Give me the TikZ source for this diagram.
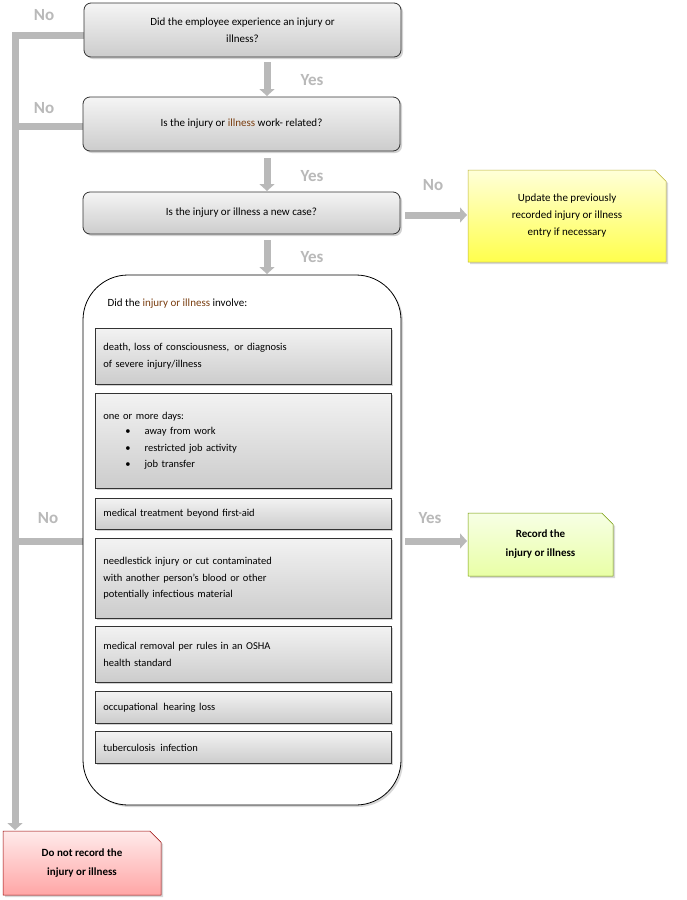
\documentclass[tikz,border=0pt]{standalone}
\usepackage{fontspec}
\setmainfont{Carlito}
\usetikzlibrary{shadows,shapes.misc,arrows.meta}
\definecolor{brn}{HTML}{7A3E10}
\begin{document}
\begin{tikzpicture}[x=1pt,y=-1pt,
  qbox/.style={draw=black!80,line width=0.8pt,rounded corners=7pt,top color=gray!8,bottom color=gray!40,drop shadow={opacity=0.35,shadow xshift=2pt,shadow yshift=-2pt},align=center,font=\fontsize{11}{17}\selectfont,inner sep=0pt},
  ibox/.style={draw=black!80,line width=0.8pt,top color=gray!10,bottom color=gray!40,drop shadow={opacity=0.35,shadow xshift=2pt,shadow yshift=-2pt},align=left,font=\fontsize{10.5}{16.5}\selectfont,anchor=north west,text width=280pt,inner xsep=8pt,inner ysep=0pt},
  flow/.style={draw=gray!55,line width=7pt},
  flowarr/.style={flow,-{Triangle[width=15pt,length=7pt]}},
  lbl/.style={text=gray!55,font=\fontsize{17}{17}\selectfont\bfseries},
  note/.style={draw=#1!70!black,line width=0.5pt,chamfered rectangle,chamfered rectangle corners=north east,chamfered rectangle xsep=8pt,align=center,drop shadow={opacity=0.3,shadow xshift=2pt,shadow yshift=-2pt},font=\fontsize{11}{17}\selectfont,inner sep=0pt}]
\useasboundingbox[fill=white] (0,0) rectangle (686,900);
% flows
\coordinate (topL) at (15,35);
\coordinate (botL) at (15,830);
\draw[flow] (84,35) -- (topL) -- (15,800);
\draw[flowarr] (15,790) -- (botL);
\draw[flow] (84,126) -- (15,126);
\draw[flow] (84,541) -- (15,541);
\draw[flowarr] (267,62) -- (267,96);
\draw[flowarr] (267,158) -- (267,191);
\draw[flowarr] (267,240) -- (267,274);
\draw[flowarr] (405,215) -- (467,215);
\draw[flowarr] (405,541) -- (467,541);
% question boxes
\node[qbox,minimum width=317pt,minimum height=54pt] (q1) at (242.5,30) {Did the employee experience an injury or\\illness?};
\node[qbox,minimum width=317pt,minimum height=54pt] (q2) at (241.5,124) {Is the injury or {\color{brn}illness} work- related?};
\node[qbox,minimum width=317pt,minimum height=42pt] (q3) at (241.5,213) {Is the injury or illness a new case?};
% big box
\draw[line width=0.8pt,fill=white,rounded corners=45pt,drop shadow={opacity=0.3,shadow xshift=2pt,shadow yshift=-2pt}] (83,275) rectangle (401,805);
\node[anchor=west,font=\fontsize{11}{13}\selectfont] (title) at (104,304) {Did the {\color{brn}injury or illness} involve:};
\node[ibox,minimum height=56pt] (i1) at (95,328) {death, loss of consciousness,\, or diagnosis\\of severe injury/illness};
\node[ibox,minimum height=95pt] (i2) at (95,393) {one or more days:\\[-1pt]
\hspace*{22pt}\textbullet\hspace{14pt}away from work\\
\hspace*{22pt}\textbullet\hspace{14pt}restricted job activity\\
\hspace*{22pt}\textbullet\hspace{14pt}job transfer};
\node[ibox,minimum height=31pt] (i3) at (95,498) {medical treatment beyond first-aid};
\node[ibox,minimum height=80pt] (i4) at (95,538) {needlestick injury or cut contaminated\\with another person's blood or other\\potentially infectious material};
\node[ibox,minimum height=56pt] (i5) at (95,626) {medical removal per rules in an OSHA\\health standard};
\node[ibox,minimum height=32pt] (i6) at (95,691) {occupational\, hearing loss};
\node[ibox,minimum height=32pt] (i7) at (95,731) {tuberculosis\, infection};
% outcome notes
\node[note=yellow,top color=yellow!15,bottom color=yellow!70,minimum width=198pt,minimum height=92pt] (upd) at (567,216) {Update the previously\\recorded injury or illness\\entry if necessary};
\node[note=green,top color=green!8!lime!10,bottom color=lime!35,draw=lime!60!black,minimum width=145pt,minimum height=63pt,font=\fontsize{11}{19}\selectfont\bfseries] (rec) at (540.5,544.5) {Record the\\injury or illness};
\node[note=red,top color=red!8,bottom color=red!35,draw=red!60!black,minimum width=158pt,minimum height=64pt,font=\fontsize{11}{19}\selectfont\bfseries] (norec) at (82,863) {Do not record the\\injury or illness};
% labels
\node[lbl] (n1) at (44,15) {No};
\node[lbl] (n2) at (44,108) {No};
\node[lbl] (n3) at (433,185) {No};
\node[lbl] (n4) at (48,518) {No};
\node[lbl] (y1) at (312,80) {Yes};
\node[lbl] (y2) at (312,176) {Yes};
\node[lbl] (y3) at (312,257) {Yes};
\node[lbl] (y4) at (430,518) {Yes};
\end{tikzpicture}
\end{document}
